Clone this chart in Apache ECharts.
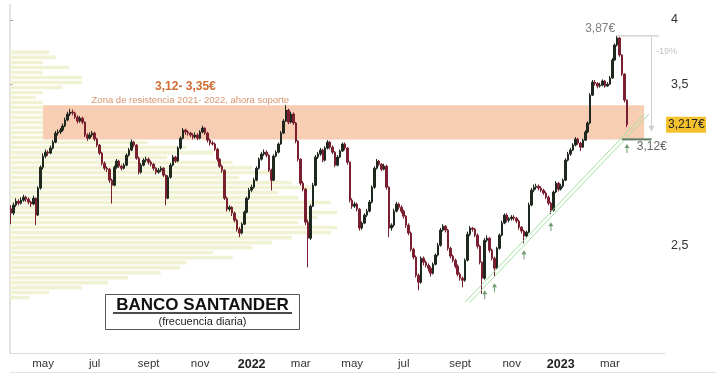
<!DOCTYPE html>
<html><head><meta charset="utf-8">
<script src="https://cdn.jsdelivr.net/npm/echarts@6/dist/echarts.min.js"></script>
<style>html,body{margin:0;padding:0;background:#fff}#c{width:716px;height:375px}</style>
</head><body><div id="c"></div>
<script>
// ---- x axis periods (two-month label groups, count of candles in each) ----
const periodLabels = ['', 'may', 'jul', 'sept', 'nov', '2022', 'mar', 'may', 'jul', 'sept', 'nov', '2023', 'mar'];
const periodCounts = [13, 21, 22, 21, 21, 20, 21, 21, 23, 21, 20, 20, 23];
const boldLabels = ['2022', '2023'];
// ---- y axis ticks ----
const yTicks = [2.5, 3.5, 4];
// ---- candles [open, close, low, high] ----
const candles = [
[2.70,2.676,2.615,2.72],[2.676,2.721,2.665,2.735],[2.721,2.743,2.71,2.76],[2.743,2.732,2.72,2.755],[2.732,2.749,2.725,2.765],
[2.749,2.766,2.74,2.78],[2.766,2.755,2.74,2.775],[2.755,2.738,2.725,2.765],[2.738,2.727,2.71,2.745],[2.727,2.760,2.72,2.775],
[2.760,2.665,2.61,2.765],[2.665,2.819,2.66,2.83],[2.819,2.944,2.81,2.955],[2.944,3.013,2.93,3.03],[3.013,3.038,3.00,3.055],
[3.038,3.032,3.015,3.05],[3.032,3.064,3.025,3.08],[3.064,3.102,3.055,3.115],[3.102,3.161,3.095,3.175],[3.161,3.168,3.145,3.185],
[3.168,3.181,3.155,3.195],[3.181,3.208,3.17,3.225],[3.208,3.248,3.20,3.265],[3.248,3.289,3.24,3.305],[3.289,3.303,3.275,3.325],
[3.303,3.296,3.28,3.32],[3.296,3.268,3.255,3.305],[3.268,3.241,3.225,3.28],[3.241,3.261,3.23,3.275],[3.261,3.234,3.22,3.27],
[3.234,3.148,3.135,3.24],[3.148,3.128,3.11,3.16],[3.128,3.148,3.12,3.165],[3.148,3.161,3.135,3.175],[3.161,3.122,3.11,3.17],
[3.122,3.083,3.07,3.13],[3.083,3.032,3.02,3.09],[3.032,2.969,2.955,3.04],[2.969,2.938,2.925,2.98],[2.938,2.932,2.915,2.95],
[2.932,2.866,2.85,2.94],[2.866,2.836,2.73,2.875],[2.836,2.944,2.83,2.955],[2.944,2.982,2.935,2.995],[2.982,2.951,2.94,2.99],
[2.951,2.938,2.925,2.96],[2.938,2.957,2.93,2.97],[2.957,3.019,2.95,3.03],[3.019,3.051,3.01,3.065],[3.051,3.102,3.045,3.12],
[3.102,3.083,3.07,3.11],[3.083,3.000,2.99,3.09],[3.000,2.914,2.90,3.01],[2.914,2.957,2.905,2.97],[2.957,2.988,2.95,3.00],
[2.988,2.994,2.975,3.01],[2.994,2.975,2.96,3.005],[2.975,2.963,2.95,2.985],[2.963,2.938,2.925,2.97],[2.938,2.914,2.90,2.945],
[2.914,2.926,2.905,2.94],[2.926,2.938,2.915,2.95],[2.938,2.896,2.885,2.945],[2.896,2.760,2.72,2.90],[2.760,2.884,2.755,2.895],
[2.884,2.957,2.875,2.97],[2.957,3.007,2.95,3.02],[3.007,2.982,2.97,3.015],[2.982,3.064,2.975,3.075],[3.064,3.128,3.055,3.14],
[3.128,3.181,3.12,3.195],[3.181,3.168,3.15,3.19],[3.168,3.161,3.145,3.18],[3.161,3.148,3.135,3.17],[3.148,3.135,3.12,3.16],
[3.135,3.148,3.125,3.165],[3.148,3.128,3.115,3.16],[3.128,3.168,3.12,3.18],[3.168,3.194,3.16,3.21],[3.194,3.161,3.15,3.20],
[3.161,3.115,3.10,3.17],[3.115,3.096,3.08,3.125],[3.096,3.09,3.08,3.11],[3.09,3.057,3.045,3.10],[3.057,2.994,2.98,3.065],
[2.994,2.951,2.94,3.00],[2.951,2.926,2.91,2.96],[2.926,2.760,2.75,2.93],[2.760,2.698,2.685,2.77],[2.698,2.709,2.685,2.72],
[2.709,2.676,2.66,2.715],[2.676,2.637,2.625,2.685],[2.637,2.588,2.575,2.645],[2.588,2.567,2.545,2.60],[2.567,2.615,2.56,2.625],
[2.615,2.681,2.61,2.69],[2.681,2.760,2.675,2.77],[2.760,2.807,2.75,2.82],[2.807,2.824,2.795,2.84],[2.824,2.866,2.815,2.88],
[2.866,2.938,2.86,2.95],[2.938,2.994,2.93,3.005],[2.994,3.026,2.985,3.04],[3.026,3.038,3.015,3.055],[3.038,3.019,3.005,3.05],
[3.019,2.926,2.915,3.025],[2.926,2.866,2.805,2.935],[2.866,3.013,2.86,3.025],[3.013,3.038,3.005,3.05],[3.038,3.090,3.03,3.10],
[3.090,3.161,3.085,3.175],[3.161,3.241,3.155,3.255],[3.241,3.316,3.235,3.35],[3.316,3.234,3.22,3.325],[3.234,3.289,3.225,3.305],
[3.289,3.228,3.215,3.30],[3.228,3.109,3.095,3.235],[3.109,2.994,2.98,3.115],[2.994,2.848,2.835,3.00],[2.848,2.813,2.80,2.86],
[2.813,2.626,2.61,2.82],[2.626,2.540,2.39,2.64],[2.540,2.715,2.53,2.725],[2.715,2.836,2.71,2.85],[2.836,3.007,2.83,3.02],
[3.007,3.026,2.995,3.04],[3.026,3.051,3.015,3.065],[3.051,2.988,2.975,3.06],[2.988,3.064,2.98,3.075],[3.064,3.102,3.055,3.115],
[3.102,3.070,3.055,3.11],[3.070,3.038,3.025,3.08],[3.038,2.957,2.945,3.045],[2.957,3.007,2.95,3.02],[3.007,3.045,3.00,3.055],
[3.045,3.090,3.04,3.10],[3.090,3.064,3.05,3.10],[3.064,2.975,2.96,3.07],[2.975,2.749,2.735,2.98],[2.749,2.715,2.70,2.76],
[2.715,2.727,2.705,2.74],[2.727,2.698,2.685,2.735],[2.698,2.594,2.58,2.705],[2.594,2.621,2.585,2.63],[2.621,2.665,2.615,2.675],
[2.665,2.687,2.655,2.70],[2.687,2.738,2.68,2.75],[2.738,2.824,2.73,2.835],[2.824,2.938,2.815,2.95],[2.938,2.982,2.93,2.995],
[2.982,2.963,2.95,2.99],[2.963,2.932,2.92,2.97],[2.932,2.951,2.925,2.965],[2.951,2.824,2.81,2.96],[2.824,2.594,2.545,2.83],
[2.594,2.610,2.58,2.62],[2.610,2.687,2.60,2.70],[2.687,2.727,2.68,2.74],[2.727,2.709,2.695,2.735],[2.709,2.687,2.675,2.72],
[2.687,2.659,2.645,2.695],[2.659,2.610,2.595,2.665],[2.610,2.567,2.555,2.62],[2.567,2.482,2.47,2.575],[2.482,2.442,2.43,2.49],
[2.442,2.351,2.34,2.45],[2.351,2.317,2.279,2.36],[2.317,2.436,2.31,2.445],[2.436,2.416,2.40,2.445],[2.416,2.401,2.39,2.425],
[2.401,2.386,2.37,2.41],[2.386,2.361,2.345,2.395],[2.361,2.406,2.355,2.415],[2.406,2.452,2.40,2.46],[2.452,2.503,2.445,2.515],
[2.503,2.583,2.495,2.595],[2.583,2.604,2.575,2.615],[2.604,2.583,2.57,2.61],[2.583,2.487,2.475,2.59],[2.487,2.447,2.435,2.495],
[2.447,2.426,2.415,2.455],[2.426,2.396,2.385,2.435],[2.396,2.356,2.345,2.405],[2.356,2.337,2.325,2.365],[2.337,2.327,2.293,2.345],
[2.327,2.426,2.32,2.435],[2.426,2.561,2.42,2.575],[2.561,2.594,2.55,2.605],[2.594,2.588,2.575,2.60],[2.588,2.556,2.545,2.595],
[2.556,2.498,2.485,2.565],[2.498,2.416,2.405,2.505],[2.416,2.337,2.262,2.42],[2.337,2.529,2.33,2.54],[2.529,2.540,2.52,2.555],
[2.540,2.477,2.465,2.545],[2.477,2.436,2.425,2.485],[2.436,2.386,2.342,2.445],[2.386,2.487,2.38,2.495],[2.487,2.556,2.48,2.565],
[2.556,2.621,2.55,2.635],[2.621,2.665,2.615,2.675],[2.665,2.637,2.625,2.675],[2.637,2.645,2.625,2.655],[2.645,2.654,2.635,2.665],
[2.654,2.648,2.635,2.665],[2.648,2.632,2.62,2.655],[2.632,2.599,2.585,2.64],[2.599,2.578,2.565,2.605],[2.578,2.551,2.513,2.585],
[2.551,2.572,2.54,2.58],[2.572,2.721,2.565,2.735],[2.721,2.807,2.715,2.82],[2.807,2.824,2.795,2.84],[2.824,2.83,2.81,2.845],
[2.83,2.819,2.805,2.84],[2.819,2.807,2.795,2.83],[2.807,2.790,2.78,2.815],[2.790,2.766,2.755,2.80],[2.766,2.732,2.72,2.775],
[2.732,2.692,2.67,2.74],[2.692,2.796,2.685,2.805],[2.796,2.848,2.79,2.86],[2.848,2.813,2.80,2.855],[2.813,2.830,2.805,2.845],
[2.830,2.866,2.82,2.875],[2.866,2.988,2.86,3.00],[2.988,3.026,2.98,3.04],[3.026,3.051,3.015,3.065],[3.051,3.083,3.045,3.095],
[3.083,3.122,3.075,3.135],[3.122,3.096,3.085,3.13],[3.096,3.070,3.045,3.105],[3.070,3.115,3.065,3.125],[3.115,3.168,3.11,3.18],
[3.168,3.228,3.16,3.24],[3.228,3.421,3.22,3.435],[3.421,3.515,3.415,3.53],[3.515,3.505,3.49,3.53],[3.505,3.486,3.47,3.515],
[3.486,3.493,3.475,3.51],[3.493,3.523,3.485,3.535],[3.523,3.486,3.475,3.53],[3.486,3.500,3.48,3.515],[3.500,3.545,3.495,3.56],
[3.545,3.680,3.54,3.695],[3.680,3.797,3.675,3.81],[3.797,3.853,3.785,3.87],[3.853,3.719,3.705,3.86],[3.719,3.574,3.56,3.725],
[3.574,3.386,3.37,3.58],[3.386,3.217,3.20,3.39]
];
// ---- volume-at-price profile: bin edges (price) and relative volume ----
const profLevels = [3.758,3.719,3.680,3.642,3.604,3.567,3.530,3.493,3.457,3.421,3.386,3.351,3.316,3.282,3.248,3.214,3.181,3.148,3.115,3.083,3.051,3.019,2.988,2.957,2.926,2.896,2.866,2.836,2.807,2.778,2.749,2.721,2.692,2.665,2.637,2.610,2.583,2.556,2.529,2.503,2.477,2.452,2.426,2.401,2.376,2.351,2.327,2.303,2.279,2.256,2.232];
const profVol = [6,7,5,9,5,11,11,8,5,4,5,9,12,14,15,14,17,18,21,27,31,24,34,37,40,35,43,46,41,44,49,46,50,47,44,50,49,43,40,37,31,34,27,26,23,18,15,11,6,3];
// ---- annotations ----
const zoneRange = [3.12, 3.35];
const zoneSpan = [13, 258];
const zoneTitle = '3,12- 3,35€';
const zoneNote = 'Zona de resistencia 2021- 2022, ahora soporte';
const trendA = [[185, 2.223], [258, 3.289]];
const trendB = [[187, 2.223], [260, 3.289]];
const peakMark = {idx: 247, price: 3.87, label: '3,87€'};
const dropMark = {label: '-19%', to: 3.17};
const lastMark = {price: 3.217, label: '3,217€'};
const supportMark = {price: 3.12, label: '3,12€', from: 249, to: 261};
const arrowMarks = [[193, 2.279], [197, 2.313], [209, 2.477], [220, 2.626], [251, 3.09]];
const titleMain = 'BANCO SANTANDER';
const titleSub = '(frecuencia diaria)';

// ---- build categories ----
const cats = [];
const labelAt = {};
periodLabels.forEach((lab, p) => {
  for (let k = 0; k < periodCounts[p]; k++) {
    if (k === 0 && lab) labelAt[cats.length] = lab;
    cats.push(p + '-' + k);
  }
});
const profData = profVol.map((v, k) => [profLevels[k + 1], profLevels[k], v]);

const FONT = "'Liberation Sans', Arial, sans-serif";
const chart = echarts.init(document.getElementById('c'));
const option = {
  animation: false,
  backgroundColor: '#fff',
  grid: {left: 10, right: 51, top: 5, bottom: 22, containLabel: false, outerBoundsMode: 'none'},
  xAxis: [{
    type: 'category', data: cats, boundaryGap: true,
    axisLine: {show: true, lineStyle: {color: '#dcdcdc', width: 1}},
    axisTick: {show: false}, splitLine: {show: false},
    axisLabel: {
      interval: (i) => !!labelAt[i], margin: 5, color: '#333', fontSize: 11.5, fontFamily: FONT,
      formatter: (v, i) => { const l = labelAt[i] || ''; return boldLabels.includes(l) ? '{y|' + l + '}' : l; },
      rich: {y: {fontWeight: 'bold', fontSize: 12.5, color: '#222', fontFamily: FONT}}
    }
  }, {
    type: 'value', show: false, min: 0, max: 100
  }],
  yAxis: [{
    type: 'log', logBase: 10, position: 'right', min: 2.0, max: 4.127,
    axisLine: {show: true, lineStyle: {color: '#e2e2e2', width: 2}},
    axisTick: {show: true, length: 3, customValues: yTicks, lineStyle: {color: '#aaa'}},
    splitLine: {show: false},
    axisLabel: {customValues: yTicks, margin: 6, color: '#333', fontSize: 12.5, fontFamily: FONT,
      formatter: (v) => String(+(+v).toFixed(2)).replace('.', ',')}
  }],
  series: [{
    type: 'custom', name: 'perfil', xAxisIndex: 1, yAxisIndex: 0, z: 1, silent: true,
    encode: {x: 2, y: [0, 1]},
    data: profData,
    renderItem: (params, api) => {
      const a = api.coord([0, api.value(1)]);
      const b = api.coord([api.value(2), api.value(0)]);
      return {type: 'rect', shape: {x: a[0], y: a[1] + 0.6, width: b[0] - a[0], height: Math.max(0.5, b[1] - a[1] - 1.4)},
        style: {fill: '#f0f2d3'}};
    }
  }, {
    type: 'custom', name: 'zona', xAxisIndex: 0, yAxisIndex: 0, z: 1, silent: true,
    encode: {x: [0, 1], y: [2, 3]},
    data: [[zoneSpan[0], zoneSpan[1], zoneRange[0], zoneRange[1]]],
    renderItem: (params, api) => {
      const a = api.coord([api.value(0), api.value(3)]);
      const b = api.coord([api.value(1), api.value(2)]);
      return {type: 'rect', shape: {x: a[0], y: a[1], width: b[0] - a[0], height: b[1] - a[1]}, style: {fill: '#f7ceb3'}};
    }
  }, {
    type: 'candlestick', name: 'SAN', z: 2, data: candles, barWidth: 2,
    itemStyle: {color: '#1e281e', color0: '#7a1f30', borderColor: '#1e281e', borderColor0: '#7a1f30', borderWidth: 1}
  }, {
    type: 'line', data: trendA, z: 3, symbol: 'none', silent: true,
    lineStyle: {color: '#a2e2a0', width: 1}
  }, {
    type: 'line', data: trendB, z: 3, symbol: 'none', silent: true,
    lineStyle: {color: '#a2e2a0', width: 1}
  }]
};
chart.setOption(option);

const P = (i, v) => chart.convertToPixel({seriesIndex: 2}, [i, v]);
const g = [];
const line = (x1, y1, x2, y2, stroke, w, z) => ({type: 'line', z: z || 50, shape: {x1, y1, x2, y2}, style: {stroke, lineWidth: w}, silent: true});
const text = (x, y, t, opts, z) => ({type: 'text', z: z || 60, x, y, silent: true,
  style: Object.assign({text: t, fontFamily: FONT, fontSize: 12, fill: '#333', textAlign: 'left', textVerticalAlign: 'middle'}, opts)});

// zone labels
const zTop = P(zoneSpan[0], zoneRange[1])[1];
g.push(text(P(71, 3)[0], zTop - 18.5, zoneTitle, {fontWeight: 'bold', fontSize: 12, fill: '#cf6d33', textAlign: 'center'}));
g.push(text(P(73, 3)[0], zTop - 5, zoneNote, {fontSize: 9.5, fill: '#d9956d', textAlign: 'center'}));

// peak
const pk = P(peakMark.idx, peakMark.price);
const xr = P(264, peakMark.price)[0];
const xv = P(261, peakMark.price)[0];
const yEnd = P(261, dropMark.to)[1];
g.push(line(pk[0] - 1, pk[1], xr, pk[1], '#bdbdbd', 1));
g.push(text(pk[0] - 2, pk[1] - 7, peakMark.label, {textAlign: 'right', fill: '#808080', fontSize: 12}));
g.push(line(xv, pk[1] + 1, xv, yEnd - 4, '#cdcdcd', 1));
g.push({type: 'polygon', z: 50, silent: true, shape: {points: [[xv - 3, yEnd - 6], [xv + 3, yEnd - 6], [xv, yEnd]]}, style: {fill: '#cdcdcd'}});
const dp = P(262, 3.745);
g.push(text(dp[0] + 1, dp[1], dropMark.label, {fontSize: 9, fill: '#c2c2c2', backgroundColor: '#fff', padding: [5, 1]}));

// last price tag
const yl = P(0, lastMark.price)[1];
g.push({type: 'rect', z: 55, silent: true, shape: {x: 666, y: yl - 8, width: 40, height: 16}, style: {fill: '#f3c22e'}});
g.push(text(668, yl + 0.5, lastMark.label, {fontSize: 12, fill: '#222'}));

// support line 3,12
const ys = P(0, supportMark.price)[1];
g.push(line(P(supportMark.from, 3)[0], ys, P(supportMark.to, 3)[0], ys, '#607c60', 2));
const sp = P(255, 3.073);
g.push(text(sp[0], sp[1], supportMark.label, {fontSize: 12, fill: '#666'}));

// green arrows
arrowMarks.forEach(([i, v]) => {
  const [x, y] = P(i, v);
  g.push(line(x, y + 3, x, y + 9, '#6f9b6f', 1));
  g.push({type: 'polygon', z: 50, silent: true, shape: {points: [[x - 2.5, y + 4], [x + 2.5, y + 4], [x, y]]}, style: {fill: '#6f9b6f'}});
});

// title box
g.push({type: 'rect', z: 70, silent: true, shape: {x: 105.5, y: 294.5, width: 194, height: 35}, style: {fill: '#fff', stroke: '#555', lineWidth: 1}});
g.push(text(202.5, 305.5, titleMain, {fontWeight: 'bold', fontSize: 17, fill: '#111', textAlign: 'center'}, 72));
g.push(line(113, 313, 292, 313, '#111', 1.5, 72));
g.push(text(202.5, 322, titleSub, {fontSize: 11, fill: '#222', textAlign: 'center'}, 72));
// bottom separator
g.push(line(10, 372.5, 716, 372.5, '#e2e2e2', 1));

chart.setOption({graphic: {elements: g}});
</script>
</body></html>
